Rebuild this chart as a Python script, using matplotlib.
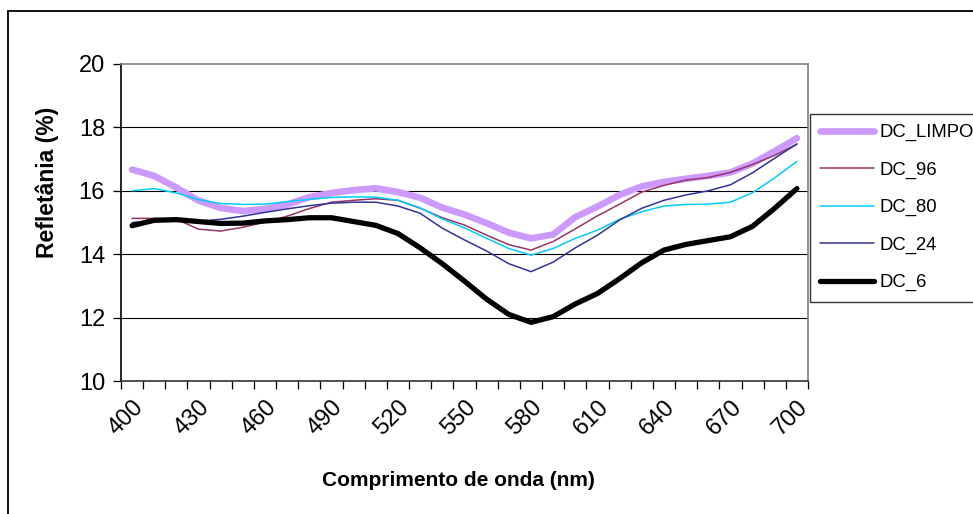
import numpy as np
import matplotlib.pyplot as plt
from matplotlib.patches import Rectangle

plt.rcParams['font.family'] = ['Liberation Sans', 'DejaVu Sans']

# wavelength categories (nm)
wavelengths = list(range(400, 701, 10))

dc_limpo = [16.67, 16.47, 16.10, 15.69, 15.46, 15.36, 15.43, 15.57, 15.80, 15.93, 16.02,
            16.08, 15.96, 15.78, 15.47, 15.25, 14.98, 14.68, 14.50, 14.62, 15.17,
            15.50, 15.87, 16.14, 16.28, 16.38, 16.47, 16.58, 16.86, 17.25, 17.66]
dc_96 = [15.13, 15.13, 15.10, 14.79, 14.73, 14.85, 15.01, 15.20, 15.44, 15.64, 15.70,
         15.75, 15.70, 15.45, 15.15, 14.92, 14.60, 14.30, 14.13, 14.40, 14.80,
         15.21, 15.58, 15.96, 16.17, 16.34, 16.42, 16.58, 16.83, 17.12, 17.47]
dc_80 = [16.00, 16.07, 15.93, 15.72, 15.60, 15.57, 15.58, 15.66, 15.73, 15.79, 15.81,
         15.80, 15.70, 15.46, 15.11, 14.83, 14.50, 14.18, 13.97, 14.18, 14.50,
         14.76, 15.10, 15.34, 15.52, 15.57, 15.58, 15.64, 15.94, 16.41, 16.93]
dc_24 = [15.00, 15.05, 15.05, 15.04, 15.10, 15.20, 15.32, 15.43, 15.53, 15.61, 15.64,
         15.64, 15.52, 15.29, 14.82, 14.45, 14.10, 13.70, 13.45, 13.75, 14.20,
         14.60, 15.08, 15.45, 15.70, 15.87, 16.00, 16.19, 16.57, 17.03, 17.48]
dc_6 = [14.90, 15.07, 15.09, 15.03, 14.97, 14.98, 15.05, 15.09, 15.15, 15.15, 15.03,
        14.91, 14.65, 14.20, 13.70, 13.15, 12.58, 12.10, 11.85, 12.03, 12.43,
        12.76, 13.23, 13.73, 14.13, 14.31, 14.43, 14.55, 14.88, 15.45, 16.07]

series = [
    ("DC_LIMPO", dc_limpo, "#CC99FF", 4.8),
    ("DC_96", dc_96, "#993366", 1.1),
    ("DC_80", dc_80, "#00CCFF", 1.1),
    ("DC_24", dc_24, "#333399", 1.1),
    ("DC_6", dc_6, "#000000", 3.8),
]

fig = plt.figure(figsize=(9.73, 5.14), dpi=100)
ax = fig.add_axes([121/973, 1 - 381/514, (808 - 121)/973, (381 - 64)/514])

x = np.arange(len(wavelengths))
for name, vals, col, lw in series:
    ax.plot(x, vals, color=col, lw=lw, label=name, solid_joinstyle='round',
            solid_capstyle='round')

ax.set_xlim(-0.5, len(wavelengths) - 0.5)
ax.set_ylim(10, 20)

# y axis
ax.set_yticks([10, 12, 14, 16, 18, 20])
ax.tick_params(axis='y', direction='out', length=5.5, width=0.9, pad=6, labelsize=17)
for yv in [12, 14, 16, 18]:
    ax.axhline(yv, color='black', lw=0.8, zorder=0)

# x axis: labels every 3 categories, tick marks between categories
ax.set_xticks(x[::3])
ax.set_xticklabels([str(w) for w in wavelengths[::3]], rotation=45, ha='right',
                   va='top', rotation_mode='anchor')
ax.set_xticks(np.arange(-0.5, len(wavelengths), 1), minor=True)
ax.tick_params(axis='x', which='major', length=0, pad=11, labelsize=17)
ax.tick_params(axis='x', which='minor', direction='out', length=5.5, width=0.9)

ax.spines['left'].set_color('black')
ax.spines['bottom'].set_color('#333333')
ax.spines['top'].set_color('#808080')
ax.spines['right'].set_color('#808080')
for s in ax.spines.values():
    s.set_linewidth(1.2)

fig.text(47/973, 1 - 182/514, "Refletânia (%)", rotation=90, ha='center', va='center',
         fontsize=16.5, fontweight='bold')
fig.text(458/973, 1 - 480/514, "Comprimento de onda (nm)", ha='center', va='center',
         fontsize=15, fontweight='bold')

leg = fig.legend(loc='upper left', bbox_to_anchor=(810/973, 1 - 114/514),
                 fontsize=13.3, frameon=True, fancybox=False, edgecolor='black',
                 handlelength=2.9, handletextpad=0.3, borderpad=0.55,
                 labelspacing=1.1, borderaxespad=0)
leg.get_frame().set_linewidth(1.0)

# outer chart frame (only top and left edges inside the picture)
fig.patches.append(Rectangle((8/973, -0.1), 1.2, 1 - 11/514 + 0.1, fill=False,
                             lw=1.3, ec='black', transform=fig.transFigure))

plt.savefig("out.png", dpi=100)
